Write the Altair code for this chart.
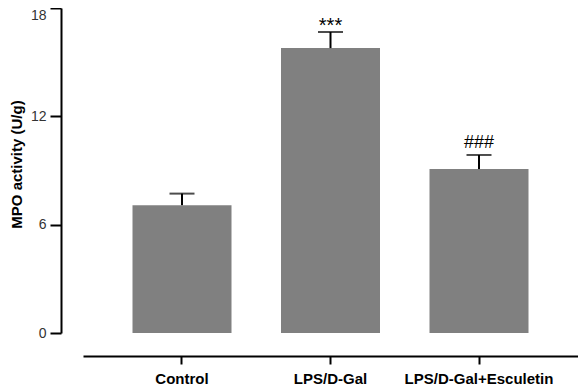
import altair as alt
import pandas as pd

groups = ["Control", "LPS/D-Gal", "LPS/D-Gal+Esculetin"]
means = [7.08, 15.78, 9.08]
sems = [0.64, 0.89, 0.78]
marks = ["", "***", "###"]

df = pd.DataFrame({
    "group": groups,
    "mean": means,
    "sem": sems,
    "mark": marks,
})
df["upper"] = df["mean"] + df["sem"]

FONT = "Liberation Sans"

x = alt.X(
    "group:N",
    sort=groups,
    title=None,
    scale=alt.Scale(paddingInner=0.3333, paddingOuter=0.3333),
    axis=alt.Axis(
        labelAngle=0, labelFont=FONT, labelFontSize=15, labelFontWeight="bold",
        labelColor="black", domainColor="black", domainWidth=2,
        tickColor="black", tickWidth=2, tickSize=8, labelPadding=7,
        offset=23, grid=False,
    ),
)

y_axis = alt.Axis(
    values=[0, 6, 12, 18], labelFont=FONT, labelFontSize=14, labelColor="#333333",
    labelBaseline=alt.ConditionalAxisLabelBaseline(
        condition={"test": "datum.value == 18", "value": "top"}, value="middle"
    ),
    domainColor="black", domainWidth=2, tickColor="black", tickWidth=2,
    tickSize=11, labelPadding=4, offset=22, grid=False,
    title="MPO activity (U/g)", titleFont=FONT, titleFontSize=15,
    titleFontWeight="bold", titleColor="black", titlePadding=6, titleY=156,
)
y = alt.Y("mean:Q", scale=alt.Scale(domain=[0, 18], nice=False), axis=y_axis)

base = alt.Chart(df)

bars = base.mark_bar(color="#808080").encode(x=x, y=y)
err = base.mark_rule(color="black", strokeWidth=2).encode(x=x, y="mean:Q", y2="upper:Q")
cap = base.mark_tick(color="black", size=25, thickness=2).encode(x=x, y="upper:Q")

stars = base.transform_filter("datum.mark == '***'").mark_text(
    font=FONT, fontSize=20, baseline="alphabetic", dy=0, color="black"
).encode(x=x, y="upper:Q", text="mark:N")
hashes = base.transform_filter("datum.mark == '###'").mark_text(
    font=FONT, fontSize=18, baseline="alphabetic", dy=-7, color="black"
).encode(x=x, y="upper:Q", text="mark:N")

chart = alt.layer(bars, err, cap, stars, hashes).properties(
    width=495, height=325,
    background="white",
    autosize=alt.AutoSizeParams(type="none"),
    padding={"left": 75, "top": 0, "right": 0, "bottom": 56},
).configure_view(strokeWidth=0, stroke="transparent")

chart.save("out.html", embed_options={"renderer": "svg", "actions": False})
